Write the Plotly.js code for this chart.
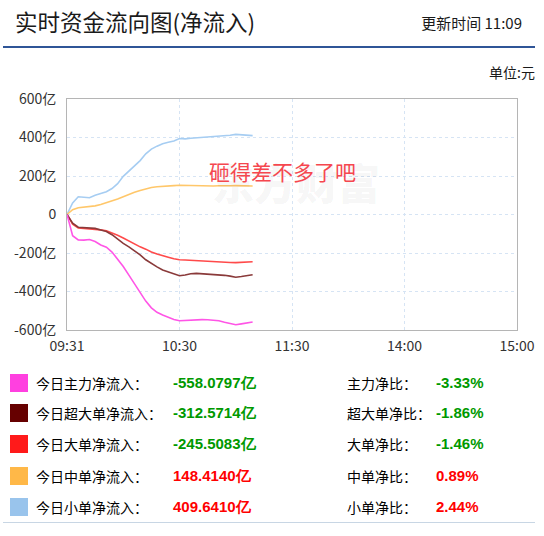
<!DOCTYPE html>
<html>
<head>
<meta charset="utf-8">
<script src="https://cdn.plot.ly/plotly-3.0.1.min.js"></script>
<style>
  html, body { margin: 0; padding: 0; background: #fff; }
  #wrap { position: relative; width: 544px; height: 536px; overflow: hidden; font-family: "Noto Sans CJK SC", "Noto Sans", sans-serif; }
  #chart { position: absolute; left: 0; top: 0; width: 544px; height: 536px; }
  .t { position: absolute; white-space: nowrap; line-height: 1; pointer-events: none; }
  .sq { position: absolute; width: 18px; height: 18px; }
  .lbl { font-size: 14px; color: #000; }
  .val { font-family: "Liberation Sans", Arial, sans-serif; font-weight: bold; font-size: 15px; }
</style>
</head>
<body>
<div id="wrap">
  <div id="chart"></div>
</div>
<script>
// ---- data ----
const minutes = [0,3,6,9,12,15,18,21,24,27,30,33,36,39,42,45,48,51,54,57,60,63,66,69,72,75,78,81,84,87,90,93,96,99];
const mainFlow = [0,-110,-132,-133,-130,-140,-158,-170,-195,-230,-270,-315,-360,-405,-450,-485,-508,-522,-534,-545,-552,-550,-547,-545,-546,-547,-548,-552,-560,-568,-573,-568,-562,-558.08];
const superLarge = [0,-45,-66,-68,-68,-72,-80,-88,-105,-128,-150,-168,-188,-210,-235,-255,-272,-288,-298,-305,-318,-314,-308,-306,-308,-309,-310,-312,-316,-320,-326,-322,-318,-312.57];
const large = [0,-50,-70,-72,-74,-77,-80,-84,-95,-108,-122,-138,-152,-168,-180,-195,-205,-215,-222,-230,-235,-236,-238,-240,-240,-242,-243,-245,-247,-249,-250,-248,-246,-245.51];
const medium = [0,25,35,38,40,45,52,60,70,80,92,105,115,125,133,140,144,147,149,150,152,151,150,149,148,147,148,149,148,149,150,149,148,148.41];
const small = [0,60,92,90,87,100,110,118,135,160,198,225,255,280,315,340,355,368,375,382,395,393,396,398,400,402,404,405,408,412,416,414,411,409.64];

const xTickVals = [0,60,120,180,240];
const xTickText = ["09:31","10:30","11:30","14:00","15:00"];
const yTickVals = [600,400,200,0,-200,-400,-600];
const yTickText = ["600亿","400亿","200亿","0","-200亿","-400亿","-600亿"];

const seriesNames = ["今日主力净流入：","今日超大单净流入：","今日大单净流入：","今日中单净流入：","今日小单净流入："];
const seriesTotals = ["-558.0797亿","-312.5714亿","-245.5083亿","148.4140亿","409.6410亿"];
const ratioNames = ["主力净比：","超大单净比：","大单净比：","中单净比：","小单净比："];
const ratioValues = ["-3.33%","-1.86%","-1.46%","0.89%","2.44%"];
const seriesData = [mainFlow, superLarge, large, medium, small];

const titleText = "实时资金流向图(净流入)";
const updateText = "更新时间 11:09";
const unitText = "单位:元";
const noteText = "砸得差不多了吧";
const watermarkText = "东方财富";

// ---- styles ----
const lineColors = ["#ff55e6","#8a3a3a","#ff4a4a","#ffc76a","#a6cdf2"];
const squareColors = ["#ff40e0","#660000","#ff1a1a","#ffb848","#99c4ec"];

const traces = seriesData.map((ys, i) => ({
  x: minutes, y: ys, type: "scatter", mode: "lines",
  line: { color: lineColors[i], width: 1.6 },
  hoverinfo: "skip", showlegend: false
})).reverse();

const layout = {
  width: 544, height: 536,
  margin: { l: 67, r: 27, t: 99, b: 206 },
  paper_bgcolor: "#fff", plot_bgcolor: "#fff",
  showlegend: false,
  xaxis: {
    range: [0, 240], tickvals: xTickVals, ticktext: xTickText,
    showgrid: true, gridcolor: "#d6e4f4", griddash: "dot", gridwidth: 1,
    zeroline: false, showline: true, mirror: true, linecolor: "#b5b5b5", linewidth: 1,
    ticks: "", ticklabelstandoff: 3,
    tickfont: { family: "Noto Sans CJK SC", size: 14, color: "#333" }, fixedrange: true
  },
  yaxis: {
    range: [-600, 600], tickvals: yTickVals, ticktext: yTickText,
    showgrid: true, gridcolor: "#d6e4f4", griddash: "dot", gridwidth: 1,
    zeroline: false, showline: true, mirror: true, linecolor: "#b5b5b5", linewidth: 1,
    ticks: "", ticklabelstandoff: 7,
    tickfont: { family: "Noto Sans CJK SC", size: 14, color: "#333" }, fixedrange: true
  },
  annotations: [
    { x: 122, y: 170, xref: "x", yref: "y", text: watermarkText, showarrow: false,
      font: { family: "Noto Sans CJK SC", size: 42, color: "rgba(0,0,0,0.055)", weight: 900 } },
    { x: 115, y: 226, xref: "x", yref: "y", text: noteText, showarrow: false,
      font: { family: "Noto Sans CJK SC", size: 21, color: "#f5474f" } }
  ]
};

Plotly.newPlot("chart", traces, layout, { displayModeBar: false, staticPlot: true });

// ---- header & legend (HTML) ----
const wrap = document.getElementById("wrap");
function addText(txt, style, cls) {
  const d = document.createElement("div");
  d.className = "t " + (cls || "");
  d.textContent = txt;
  Object.assign(d.style, style);
  wrap.appendChild(d);
  return d;
}
addText(titleText, { left: "15px", top: "10px", fontSize: "22.5px", color: "#1a1a1a" });
addText(updateText, { right: "22px", top: "15px", fontSize: "15px", color: "#1a1a1a" });
const rule = document.createElement("div");
Object.assign(rule.style, { position: "absolute", left: "3px", top: "46px", width: "532px", height: "2px", background: "#2f5597" });
wrap.appendChild(rule);
addText(unitText, { right: "9px", top: "65px", fontSize: "14px", color: "#1a1a1a" });

const rowCenters = [383, 413, 444, 476, 507];
seriesNames.forEach((nm, i) => {
  const c = rowCenters[i];
  const sq = document.createElement("div");
  sq.className = "sq";
  Object.assign(sq.style, { left: "10px", top: (c - 9) + "px", background: squareColors[i] });
  wrap.appendChild(sq);
  addText(nm, { left: "36px", top: (c - 7) + "px" }, "lbl");
  const neg = seriesTotals[i].startsWith("-");
  addText(seriesTotals[i], { left: "173px", top: (c - 8) + "px", color: neg ? "#009900" : "#ff0000" }, "val");
  addText(ratioNames[i], { left: "347px", top: (c - 7) + "px" }, "lbl");
  addText(ratioValues[i], { left: "436px", top: (c - 8) + "px", color: neg ? "#009900" : "#ff0000" }, "val");
});
const bottomRule = document.createElement("div");
Object.assign(bottomRule.style, { position: "absolute", left: "3px", top: "522px", width: "532px", height: "1px", background: "#c8d6e4" });
wrap.appendChild(bottomRule);
</script>
</body>
</html>
